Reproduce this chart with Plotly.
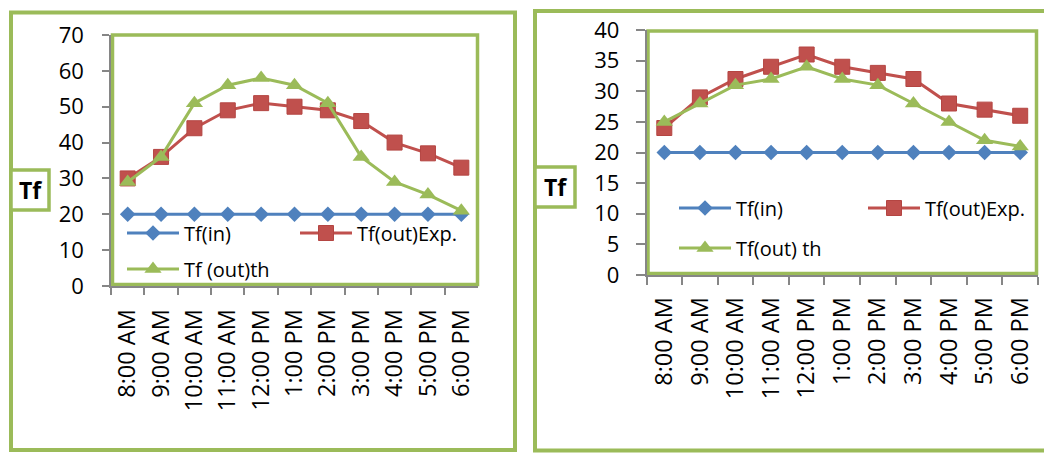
import plotly.graph_objects as go

W, H = 1044, 454

times = ["8:00 AM", "9:00 AM", "10:00 AM", "11:00 AM", "12:00 PM", "1:00 PM",
         "2:00 PM", "3:00 PM", "4:00 PM", "5:00 PM", "6:00 PM"]

# Panel A
a_tf_in = [20, 20, 20, 20, 20, 20, 20, 20, 20, 20, 20]
a_tf_out_exp = [30, 36, 44, 49, 51, 50, 49, 46, 40, 37, 33]
a_tf_out_th = [29, 36, 51, 56, 58, 56, 51, 36, 29, 25.5, 21]

# Panel B
b_tf_in = [20, 20, 20, 20, 20, 20, 20, 20, 20, 20, 20]
b_tf_out_exp = [24, 29, 32, 34, 36, 34, 33, 32, 28, 27, 26]
b_tf_out_th = [25, 28, 31, 32, 34, 32, 31, 28, 25, 22, 21]

BLUE = "#4F81BD"
RED = "#C0504D"
GREEN = "#9BBB59"
GRAY = "#868686"
FONT = "Open Sans"


def px(x):
    return x / W


def py(y):
    return 1 - y / H


fig = go.Figure()


def add_series(xa, ya, vin, vexp, vth, names, legs):
    fig.add_trace(go.Scatter(
        x=times, y=vin, name=names[0], xaxis=xa, yaxis=ya, mode="lines+markers",
        line=dict(color=BLUE, width=3),
        marker=dict(symbol="diamond", size=12, color=BLUE),
        legend=legs[0]))
    fig.add_trace(go.Scatter(
        x=times, y=vexp, name=names[1], xaxis=xa, yaxis=ya, mode="lines+markers",
        line=dict(color=RED, width=3),
        marker=dict(symbol="square", size=15, color=RED,
                    line=dict(color="#B44542", width=1)),
        legend=legs[1]))
    fig.add_trace(go.Scatter(
        x=times, y=vth, name=names[2], xaxis=xa, yaxis=ya, mode="lines+markers",
        line=dict(color=GREEN, width=3),
        marker=dict(symbol="triangle-up", size=15, color=GREEN),
        legend=legs[2]))


add_series("x", "y", a_tf_in, a_tf_out_exp, a_tf_out_th,
           ["Tf(in)", "Tf(out)Exp.", "Tf (out)th"],
           ["legend", "legend2", "legend3"])
add_series("x2", "y2", b_tf_in, b_tf_out_exp, b_tf_out_th,
           ["Tf(in)", "Tf(out)Exp.", "Tf(out) th"],
           ["legend4", "legend5", "legend6"])

xcommon = dict(type="category", tickson="boundaries", ticks="outside",
               range=[-0.5, len(times) - 0.5],
               tickcolor=GRAY, tickwidth=1.5, showline=True, linecolor=GRAY,
               linewidth=1.5, showgrid=False, tickangle=-90, automargin=False,
               tickfont=dict(family=FONT, size=23.5, color="black"), fixedrange=True)
ycommon = dict(ticks="outside", tickcolor=GRAY, tickwidth=1.5, showline=True,
               linecolor=GRAY, linewidth=1.5, showgrid=False, zeroline=False,
               automargin=False,
               tickfont=dict(family=FONT, size=22, color="black"), fixedrange=True)

leg_common = dict(orientation="h", bgcolor="rgba(0,0,0,0)", borderwidth=0,
                  font=dict(family=FONT, size=20, color="black"),
                  itemwidth=52, xanchor="left", yanchor="middle")

fig.update_layout(
    width=W, height=H, margin=dict(l=0, r=0, t=0, b=0, autoexpand=False),
    paper_bgcolor="white", plot_bgcolor="white", showlegend=True,
    font=dict(family=FONT, color="black"),
    xaxis=dict(domain=[px(111), px(478)], anchor="y", ticklen=7,
               ticklabelstandoff=12, **xcommon),
    yaxis=dict(domain=[py(286), py(35)], anchor="x", range=[0, 70], dtick=10,
               ticklen=7, ticklabelstandoff=14, **ycommon),
    xaxis2=dict(domain=[px(646.5), px(1038)], anchor="y2", ticklen=8,
                ticklabelstandoff=11, **xcommon),
    yaxis2=dict(domain=[py(275), py(30)], anchor="x2", range=[0, 40], dtick=5,
                ticklen=9, ticklabelstandoff=12, **ycommon),
    legend=dict(x=px(122), y=py(233), **leg_common),
    legend2=dict(x=px(295), y=py(233), **leg_common),
    legend3=dict(x=px(122), y=py(269), **leg_common),
    legend4=dict(x=px(674), y=py(208), **leg_common),
    legend5=dict(x=px(863), y=py(208), **leg_common),
    legend6=dict(x=px(674), y=py(248), **leg_common),
)

shapes = []
# outer panel frames
for x0, x1, y0, y1 in [(11, 515, 12.5, 450), (535, 1052, 11, 450.5)]:
    shapes.append(dict(type="rect", xref="paper", yref="paper",
                       x0=px(x0), x1=px(x1), y0=py(y1), y1=py(y0),
                       line=dict(color=GREEN, width=4), layer="below"))
# plot-area frames
for x0, x1, y0, y1 in [(112.5, 477.5, 35, 284.5), (648, 1036.5, 31, 273.5)]:
    shapes.append(dict(type="rect", xref="paper", yref="paper",
                       x0=px(x0), x1=px(x1), y0=py(y1), y1=py(y0),
                       line=dict(color=GREEN, width=3.5), layer="below"))
# axis-title boxes
for x0, x1, y0, y1 in [(11, 49, 170, 210), (535, 575, 167, 207)]:
    shapes.append(dict(type="rect", xref="paper", yref="paper",
                       x0=px(x0), x1=px(x1), y0=py(y1), y1=py(y0),
                       fillcolor="white", line=dict(color=GREEN, width=3.5),
                       layer="above"))
fig.update_layout(shapes=shapes)

for cx, cy in [(30, 190), (555, 187)]:
    fig.add_annotation(x=px(cx), y=py(cy), xref="paper", yref="paper",
                       text="<b>Tf</b>", showarrow=False,
                       font=dict(family=FONT, size=23, color="black"),
                       xanchor="center", yanchor="middle")

fig.write_html("out.html")
